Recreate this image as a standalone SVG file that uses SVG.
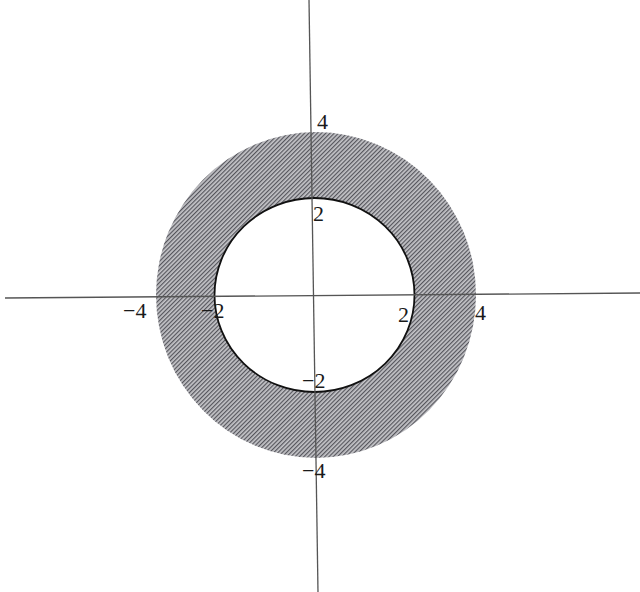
<svg xmlns="http://www.w3.org/2000/svg" width="640" height="592" viewBox="0 0 640 592">
<defs>
<pattern id="hatch" width="3" height="3" patternUnits="userSpaceOnUse" patternTransform="rotate(45)">
<rect width="3" height="3" fill="#c4c4c8"/>
<rect width="1.2" height="3" fill="#55555c"/>
</pattern>
</defs>
<style>
.lbl{font-family:"Liberation Serif","DejaVu Serif",serif;font-size:22px;fill:#1a1a1a}
.axis{stroke:#555;stroke-width:1.3;fill:none}
</style>
<rect width="640" height="592" fill="#fff"/>
<g id="ring">
<path d="M156,295 A160,163 0 1,0 476,295 A160,163 0 1,0 156,295 Z M214.5,295 A100,97 0 1,1 414.5,295 A100,97 0 1,1 214.5,295 Z" fill="url(#hatch)" fill-rule="evenodd"/>
<ellipse cx="314.5" cy="295" rx="100" ry="97" fill="none" stroke="#111" stroke-width="1.8"/>
</g>
<g id="axes">
<line class="axis" x1="309" y1="0" x2="318" y2="592"/>
<line class="axis" x1="5" y1="298" x2="640" y2="293"/>
</g>
<g id="labels">
<text class="lbl" x="317" y="129">4</text>
<text class="lbl" x="313" y="221">2</text>
<text class="lbl" x="123" y="318">−4</text>
<text class="lbl" x="201" y="318">−2</text>
<text class="lbl" x="398" y="322">2</text>
<text class="lbl" x="475" y="320">4</text>
<text class="lbl" x="302" y="388">−2</text>
<text class="lbl" x="302" y="478">−4</text>
</g>
</svg>
